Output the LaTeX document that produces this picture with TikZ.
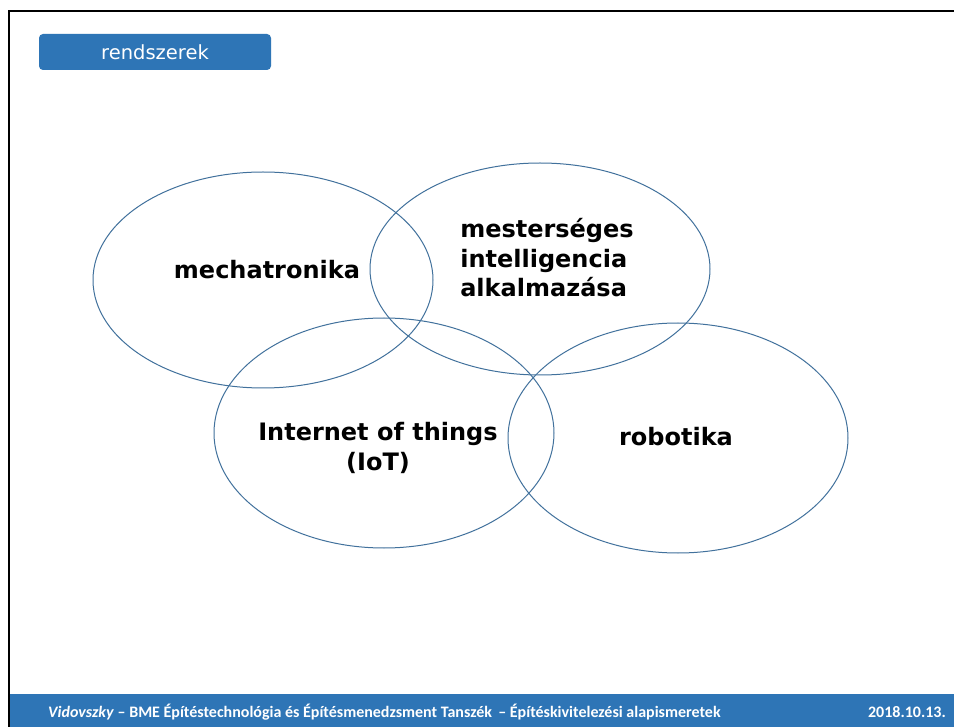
\documentclass[tikz,border=0pt]{standalone}
\usepackage{fontspec}
\setmainfont{DejaVu Sans}
\newfontfamily\footfont{Carlito}
\definecolor{slideblue}{HTML}{2E75B6}
\definecolor{ringblue}{HTML}{41719C}
\begin{document}
\begin{tikzpicture}[x=1pt,y=-1pt,
  ring/.style={draw=ringblue,line width=1pt},
  lbl/.style={font=\fontsize{24}{30}\selectfont\bfseries,text=black,align=center,inner sep=0pt},
  foot/.style={text=white,inner sep=0pt,anchor=base west,font=\footfont\bfseries\fontsize{16}{18}\selectfont}]
\useasboundingbox (0,0) rectangle (954,727);
\fill[white] (0,0) rectangle (954,727);
% frame
\draw[line width=2pt] (9,727) -- (9,11) -- (958,11);
% footer bar
\fill[slideblue] (10,694) rectangle (954,727);
% title box
\node[fill=slideblue,rounded corners=4pt,minimum width=232pt,minimum height=36pt,inner sep=0pt,
  text=white,font=\fontsize{19.5}{22}\selectfont] (title) at (155,52) {rendszerek};
% rings
\draw[ring] (263,280) ellipse [x radius=170,y radius=108];
\draw[ring] (540,269) ellipse [x radius=170,y radius=106];
\draw[ring] (384,433) ellipse [x radius=170,y radius=115];
\draw[ring] (678,438) ellipse [x radius=170,y radius=115];
% labels
\node[lbl] (mech) at (267,270) {mechatronika};
\node[lbl,align=left,font=\fontsize{24}{29.5}\selectfont\bfseries] (mi) at (547,258) {mesterséges\\intelligencia\\alkalmazása};
\node[lbl] (iot) at (378,448) {Internet of things\\(IoT)};
\node[lbl] (rob) at (676,437) {robotika};
% footer text
\node[foot] (ft) at (48,717)
  {\textit{Vidovszky} – BME Építéstechnológia és Építésmenedzsment Tanszék \,– Építéskivitelezési alapismeretek};
\node[foot,anchor=base east] (date) at (946,717) {2018.10.13.};
\end{tikzpicture}
\end{document}
